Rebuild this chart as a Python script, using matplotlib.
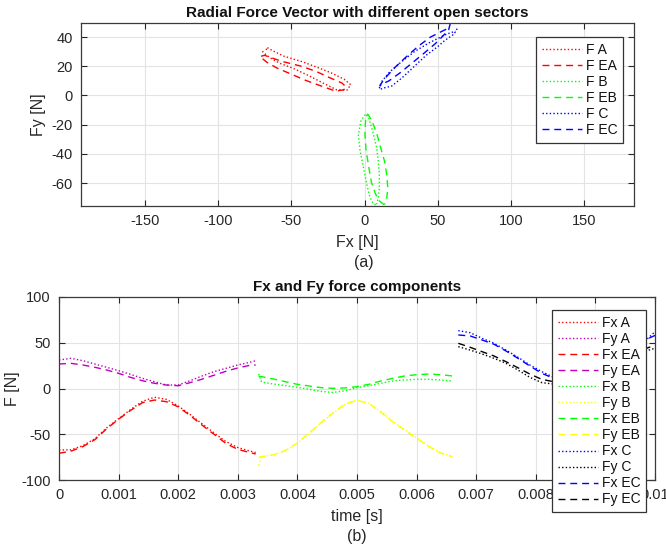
import numpy as np
import matplotlib
matplotlib.use("Agg")
import matplotlib.pyplot as plt

plt.rcParams['font.family'] = ['Liberation Sans', 'DejaVu Sans']
plt.rcParams['axes.unicode_minus'] = False

# sector A  (0 .. 0.0033 s)
t_a = [0, 0.0002, 0.0004, 0.0006, 0.0008, 0.0010, 0.0012, 0.0014, 0.0016,
       0.0018, 0.0020, 0.0022, 0.0024, 0.0026, 0.0028, 0.0030, 0.0032, 0.0033]
fx_a = [-67.2, -67, -62.5, -55, -43, -33, -23, -14, -9.6,
        -11.8, -19, -28.5, -38.5, -48.5, -58, -64.5, -68.3, -70]
fx_ea = [-70.8, -68.5, -63.5, -56, -44, -33.5, -24, -15.5, -12.6,
         -14.4, -20, -29.5, -40, -50, -60, -66.5, -70, -71.6]
fy_a = [31.1, 33, 30.4, 26.8, 23.2, 19.5, 15.5, 11.1, 7.4,
        3.8, 3.8, 8.5, 13.7, 18.4, 22, 25.7, 28.6, 30.4]
fy_ea = [26.8, 27.5, 25.7, 23.2, 20.2, 16.6, 12.2, 8.5, 5.7,
         3.8, 3.0, 6.4, 10.2, 14.5, 18.8, 22.5, 25.3, 25.7]

# sector B  (0.00335 .. 0.0066 s)
t_b = [0.00335, 0.0034, 0.0036, 0.0038, 0.0040, 0.0042, 0.0044, 0.0046, 0.0048,
       0.0050, 0.0052, 0.0054, 0.0056, 0.0058, 0.0060, 0.0062, 0.0064, 0.0066]
fx_b = [16, 7, 4.9, 3.1, 1.3, -0.9, -3.2, -4.3, -2.5,
        0.8, 3.1, 5.7, 8.2, 9.3, 10, 10, 9.3, 8.2]
fx_eb = [13.5, 12.9, 10.4, 7.4, 4.6, 2.7, 0.9, 0.2, 0.6,
         2, 4.6, 8.2, 11.1, 13.7, 15.1, 15.8, 15.1, 13.7]
fy_b = [-84, -74.5, -72.7, -68, -60, -49, -37.4, -27, -17.3,
        -12.6, -16.2, -25.4, -36, -45, -54, -63, -70, -74.5]
fy_eb = [-75, -74.5, -72.5, -67.5, -59.5, -48.5, -37, -26.5, -17,
         -12.8, -16.5, -25.8, -36.5, -45.5, -54.5, -63.3, -70.5, -74.5]

# sector C  (0.0067 .. 0.01 s)
t_c = [0.0067, 0.0069, 0.0071, 0.0073, 0.0075, 0.0077, 0.0079, 0.0081, 0.0083,
       0.0085, 0.0087, 0.0089, 0.0091, 0.0093, 0.0095, 0.0097, 0.0099, 0.0100]
fx_c = [63.2, 61, 54.8, 49.4, 42, 34.2, 25.7, 18.4, 12.2,
        10.5, 10, 12, 17, 25, 34, 44, 56, 62]
fx_ec = [58.5, 57.4, 53, 48.3, 41, 33, 24.6, 16.6, 11.1,
         10.5, 11.5, 15, 21, 29, 37, 45, 55, 58]
fy_c = [45.7, 42, 37.7, 33, 27.5, 20.2, 12.2, 6.4, 4.9,
        4, 6, 10, 16, 23, 30, 36, 42, 44]
fy_ec = [49.4, 45, 40.2, 35.5, 29.3, 22.7, 15.8, 10, 7.4,
         6.5, 8.5, 13, 19.5, 27, 34, 40, 45, 46.5]

dot = (0, (1, 1.6))
dash = (0, (5, 3.5))
lw = 1.0
dark = '#262626'


def style_axes(ax):
    ax.grid(True, color='#e3e3e3', linewidth=0.8)
    ax.set_axisbelow(True)
    ax.tick_params(direction='in', top=True, right=True, length=4,
                   width=0.8, colors=dark, labelsize=10.5, pad=6)
    for s in ax.spines.values():
        s.set_color('#3a3a3a')
        s.set_linewidth(0.9)


def add_legend(ax, x, y):
    leg = ax.legend(loc='upper left', bbox_to_anchor=(x / 666, 1 - y / 546),
                    bbox_transform=fig.transFigure, borderaxespad=0,
                    fancybox=False, edgecolor='#333333', framealpha=1,
                    fontsize=10, handlelength=2.9, labelspacing=0.15,
                    handletextpad=0.3, borderpad=0.4, handleheight=0.6)
    leg.get_frame().set_linewidth(0.9)
    for txt in leg.get_texts():
        txt.set_color('#111111')
    return leg


fig = plt.figure(figsize=(6.66, 5.46), dpi=100)

# (a) radial force vector
ax1 = fig.add_axes([81 / 666, 1 - 206 / 546, 553 / 666, 183 / 546])
ax1.plot(fx_a, fy_a, color='r', linestyle=dot, lw=lw, label='F A')
ax1.plot(fx_ea, fy_ea, color='r', linestyle=dash, lw=lw, label='F EA')
ax1.plot(fx_b, fy_b, color='#00ff00', linestyle=dot, lw=lw, label='F B')
ax1.plot(fx_eb, fy_eb, color='#00ff00', linestyle=dash, lw=lw, label='F EB')
ax1.plot(fx_c, fy_c, color='b', linestyle=dot, lw=lw, label='F C')
ax1.plot(fx_ec, fy_ec, color='b', linestyle=dash, lw=lw, label='F EC')
ax1.set_xlim(-193.8, 184)
ax1.set_ylim(-75.7, 49.6)
ax1.set_xticks([-150, -100, -50, 0, 50, 100, 150])
ax1.set_yticks([-60, -40, -20, 0, 20, 40])
style_axes(ax1)
ax1.set_title('Radial Force Vector with different open sectors',
              fontsize=11, fontweight='bold', color='#111111', pad=4)
ax1.set_xlabel('Fx [N]', fontsize=11.5, color=dark, labelpad=5)
ax1.set_ylabel('Fy [N]', fontsize=11.5, color=dark, labelpad=4)
add_legend(ax1, 536, 37)
fig.text(364 / 666, 1 - 262 / 546, '(a)', ha='center', va='center',
         fontsize=11.5, color=dark)

# (b) time components
ax2 = fig.add_axes([59 / 666, 1 - 480 / 546, 596 / 666, 183 / 546])
ax2.plot(t_a, fx_a, color='r', linestyle=dot, lw=lw, label='Fx A')
ax2.plot(t_a, fy_a, color='m', linestyle=dot, lw=lw, label='Fy A')
ax2.plot(t_a, fx_ea, color='r', linestyle=dash, lw=lw, label='Fx EA')
ax2.plot(t_a, fy_ea, color='m', linestyle=dash, lw=lw, label='Fy EA')
ax2.plot(t_b, fx_b, color='#00ff00', linestyle=dot, lw=lw, label='Fx B')
ax2.plot(t_b, fy_b, color='#ffff00', linestyle=dot, lw=lw, label='Fy B')
ax2.plot(t_b, fx_eb, color='#00ff00', linestyle=dash, lw=lw, label='Fx EB')
ax2.plot(t_b, fy_eb, color='#ffff00', linestyle=dash, lw=lw, label='Fy EB')
ax2.plot(t_c, fx_c, color='b', linestyle=dot, lw=lw, label='Fx C')
ax2.plot(t_c, fy_c, color='k', linestyle=dot, lw=lw, label='Fy C')
ax2.plot(t_c, fx_ec, color='b', linestyle=dash, lw=lw, label='Fx EC')
ax2.plot(t_c, fy_ec, color='k', linestyle=dash, lw=lw, label='Fy EC')
ax2.set_xlim(0, 0.01)
ax2.set_ylim(-100, 100)
xt = [0, 0.001, 0.002, 0.003, 0.004, 0.005, 0.006, 0.007, 0.008, 0.009, 0.01]
ax2.set_xticks(xt)
ax2.set_xticklabels(['0'] + ['%g' % v for v in xt[1:]])
ax2.set_yticks([-100, -50, 0, 50, 100])
style_axes(ax2)
ax2.set_title('Fx and Fy force components', fontsize=11, fontweight='bold',
              color='#111111', pad=4)
ax2.set_xlabel('time [s]', fontsize=11.5, color=dark, labelpad=5)
ax2.set_ylabel('F [N]', fontsize=11.5, color=dark, labelpad=1)
add_legend(ax2, 552, 310)
fig.text(357 / 666, 1 - 537 / 546, '(b)', ha='center', va='center',
         fontsize=11.5, color=dark)

fig.savefig('out.png', dpi=100)
